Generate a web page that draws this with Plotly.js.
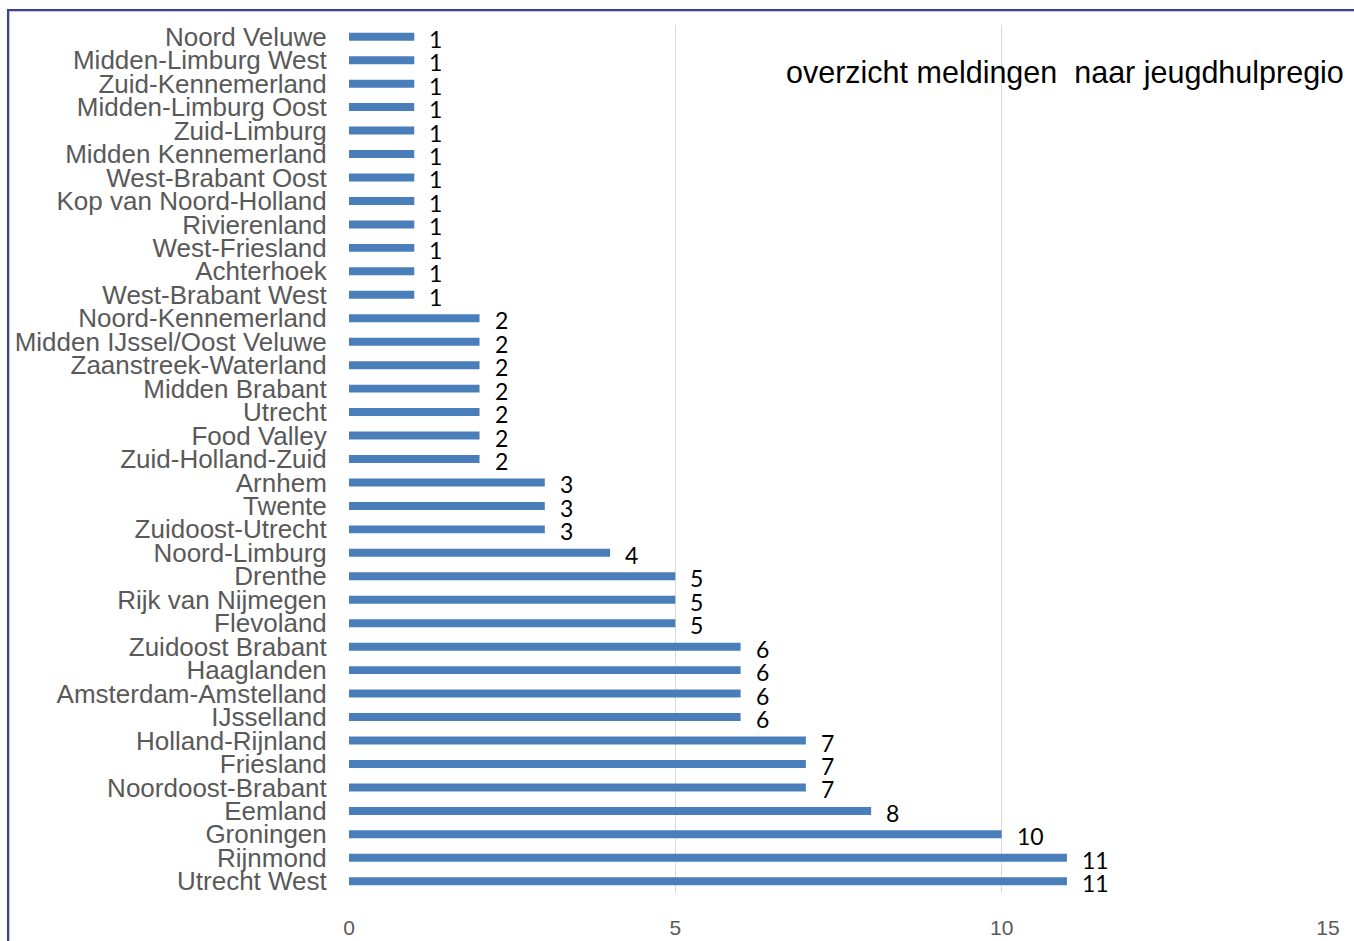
<!DOCTYPE html>
<html>
<head>
<meta charset="utf-8">
<script src="https://cdn.plot.ly/plotly-3.0.1.min.js"></script>
<style>
  html, body { margin: 0; padding: 0; background: #ffffff; }
  #wrap { position: relative; width: 1354px; height: 941px; overflow: hidden; }
  #chart { position: absolute; left: 0; top: 0; width: 1354px; height: 941px; }
  #frame { position: absolute; left: 7px; top: 9px; width: 1400px; height: 1000px;
           border-left: 2px solid #3b3fa0; border-top: 2px solid #3b3fa0;
           box-shadow: inset 1px 1px 0 #c8c8d8; pointer-events: none; }
</style>
</head>
<body>
<div id="wrap">
  <div id="chart"></div>
  <div id="frame"></div>
</div>
<script>
const regions = [
  "Noord Veluwe", "Midden-Limburg West", "Zuid-Kennemerland", "Midden-Limburg Oost",
  "Zuid-Limburg", "Midden Kennemerland", "West-Brabant Oost", "Kop van Noord-Holland",
  "Rivierenland", "West-Friesland", "Achterhoek", "West-Brabant West",
  "Noord-Kennemerland", "Midden IJssel/Oost Veluwe", "Zaanstreek-Waterland", "Midden Brabant",
  "Utrecht", "Food Valley", "Zuid-Holland-Zuid", "Arnhem", "Twente", "Zuidoost-Utrecht",
  "Noord-Limburg", "Drenthe", "Rijk van Nijmegen", "Flevoland", "Zuidoost Brabant",
  "Haaglanden", "Amsterdam-Amstelland", "IJsselland", "Holland-Rijnland", "Friesland",
  "Noordoost-Brabant", "Eemland", "Groningen", "Rijnmond", "Utrecht West"
];
const meldingen = [
  1, 1, 1, 1, 1, 1, 1, 1, 1, 1, 1, 1,
  2, 2, 2, 2, 2, 2, 2,
  3, 3, 3,
  4,
  5, 5, 5,
  6, 6, 6, 6,
  7, 7, 7,
  8, 10, 11, 11
];
const xTicks = [0, 5, 10, 15];
const titleText = "overzicht meldingen\u00a0 naar jeugdhulpregio";

const trace = {
  type: "bar",
  orientation: "h",
  x: meldingen,
  y: regions,
  width: 0.34,
  marker: { color: "#4a7ebb" },
  hoverinfo: "x+y"
};

const valueLabels = meldingen.map((v, i) => ({
  x: v, y: regions[i], xref: "x", yref: "y",
  text: String(v), showarrow: false,
  xanchor: "left", yanchor: "middle", xshift: 13, yshift: -2,
  font: { family: "Lato, 'Open Sans', sans-serif", size: 23, color: "#000000" }
}));

const layout = {
  width: 1354, height: 941,
  paper_bgcolor: "rgba(0,0,0,0)",
  plot_bgcolor: "rgba(0,0,0,0)",
  margin: { l: 349, r: 26, t: 25, b: 48 },
  showlegend: false,
  bargap: 0.66,
  xaxis: {
    range: [0, 15],
    tickmode: "array",
    tickvals: xTicks,
    ticktext: xTicks.map(String),
    showgrid: true, gridcolor: "#d9d9d9", gridwidth: 1,
    zeroline: false, showline: false,
    ticks: "outside", ticklen: 16, tickcolor: "rgba(0,0,0,0)",
    tickfont: { family: "'Liberation Sans', Arial, sans-serif", size: 21, color: "#595959" },
    fixedrange: true
  },
  yaxis: {
    type: "category",
    range: [regions.length - 0.5, -0.5],
    tickmode: "array",
    tickvals: regions,
    ticktext: regions,
    showgrid: false, zeroline: false, showline: false,
    ticks: "outside", ticklen: 16, tickcolor: "rgba(0,0,0,0)",
    tickfont: { family: "'Liberation Sans', Arial, sans-serif", size: 26, color: "#595959" },
    fixedrange: true
  },
  annotations: valueLabels.concat([{
    xref: "paper", yref: "paper",
    x: (784 - 349) / 979, y: (893 - 72) / 868,
    xanchor: "left", yanchor: "middle",
    text: titleText, showarrow: false,
    font: { family: "'Liberation Sans', Arial, sans-serif", size: 30.5, color: "#000000" }
  }])
};

Plotly.newPlot("chart", [trace], layout, { displayModeBar: false, staticPlot: true });
</script>
</body>
</html>
